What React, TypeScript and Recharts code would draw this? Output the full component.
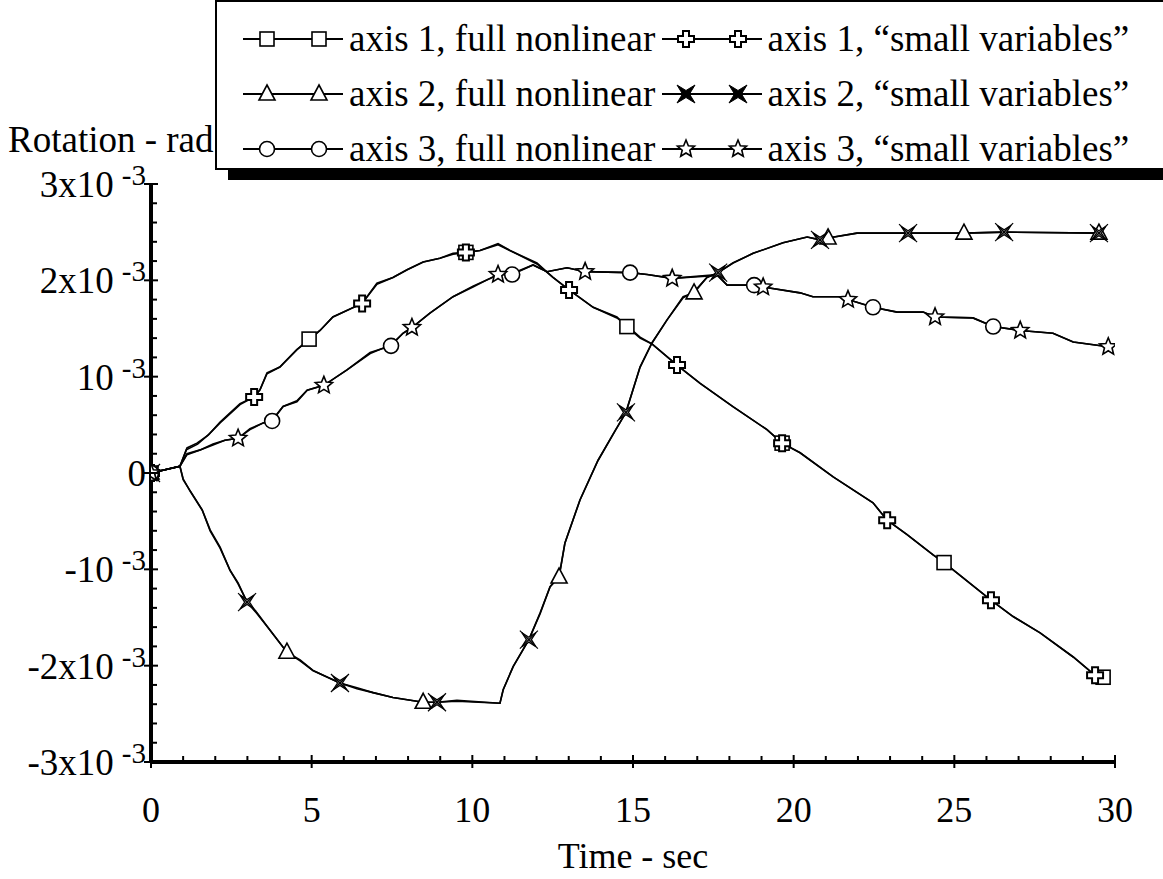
import React from "react";
import { ComposedChart, Line, Scatter, XAxis, YAxis, Legend } from "recharts";

// time in sec, rotation in units of 10^-3 rad
const axis1FullLine = [
  [0, 0], [0.9, 0.07], [1.12, 0.26], [1.43, 0.31], [1.77, 0.39], [2.15, 0.52], [2.77, 0.71],
  [3.21, 0.79], [3.39, 0.86], [3.61, 1.04], [4.01, 1.1], [4.54, 1.28], [4.92, 1.39], [5.26, 1.48],
  [5.66, 1.62], [6.57, 1.76], [7.03, 1.97], [7.53, 2.03], [7.97, 2.11], [8.47, 2.19], [8.99, 2.23],
  [9.4, 2.28], [9.8, 2.29], [10.24, 2.31], [10.8, 2.38], [11.17, 2.31], [12.01, 2.18], [12.51, 2.03],
  [13.01, 1.9], [13.76, 1.72], [14.5, 1.62], [14.81, 1.52], [15.22, 1.4], [15.59, 1.34], [16.37, 1.12],
  [17.09, 0.93], [18.11, 0.69], [19.17, 0.45], [19.64, 0.31], [20.2, 0.21], [21.23, -0.04],
  [22.47, -0.31], [22.91, -0.49], [23.53, -0.64], [24.34, -0.85], [24.68, -0.93], [25.09, -1.04],
  [26.14, -1.32], [26.83, -1.49], [27.67, -1.66], [28.7, -1.91], [29.38, -2.1], [29.63, -2.12],
];
const axis1FullMarks = [
  [0, 0], [4.92, 1.39], [9.8, 2.29], [14.81, 1.52], [19.64, 0.31], [24.68, -0.93], [29.63, -2.12],
];

const axis1SmallLine = [
  [0, 0], [0.9, 0.07], [1.1, 0.24], [1.45, 0.3], [1.8, 0.4], [2.15, 0.53], [2.77, 0.72],
  [3.21, 0.79], [3.4, 0.87], [3.61, 1.03], [4.01, 1.1], [4.54, 1.28], [4.92, 1.38], [5.26, 1.48],
  [5.66, 1.62], [6.57, 1.76], [7.03, 1.96], [7.53, 2.03], [7.97, 2.11], [8.47, 2.19], [8.99, 2.23],
  [9.4, 2.27], [9.8, 2.29], [10.24, 2.31], [10.8, 2.37], [11.17, 2.31], [12.01, 2.17], [12.51, 2.03],
  [13.01, 1.9], [13.76, 1.72], [14.5, 1.61], [14.81, 1.53], [15.22, 1.41], [15.59, 1.34], [16.37, 1.12],
  [17.09, 0.93], [18.11, 0.69], [19.17, 0.45], [19.64, 0.31], [20.2, 0.21], [21.23, -0.04],
  [22.47, -0.31], [22.91, -0.49], [23.53, -0.64], [24.34, -0.85], [24.68, -0.93], [25.09, -1.04],
  [26.14, -1.32], [26.83, -1.49], [27.67, -1.66], [28.7, -1.91], [29.38, -2.1],
];
const axis1SmallMarks = [
  [0, 0], [3.21, 0.79], [6.57, 1.76], [9.8, 2.29], [13.01, 1.9], [16.37, 1.12], [19.64, 0.31],
  [22.91, -0.49], [26.14, -1.32], [29.38, -2.1],
];

const axis2FullLine = [
  [0, 0], [0.9, 0.07], [1.0, -0.07], [1.21, -0.18], [1.59, -0.38], [1.84, -0.59], [2.15, -0.77],
  [2.46, -1.01], [2.71, -1.14], [2.99, -1.34], [3.3, -1.45], [3.7, -1.63], [4.23, -1.86], [4.64, -1.94],
  [5.04, -2.05], [5.88, -2.18], [6.41, -2.23], [6.91, -2.28], [7.53, -2.33], [8.47, -2.38], [8.9, -2.38],
  [9.52, -2.36], [10.86, -2.39], [10.96, -2.25], [11.27, -2.01], [11.76, -1.73], [12.11, -1.45],
  [12.42, -1.18], [12.7, -1.08], [12.88, -0.73], [13.35, -0.28], [13.91, 0.13], [14.41, 0.42],
  [14.78, 0.63], [15.22, 1.1], [15.59, 1.35], [16.06, 1.59], [16.56, 1.83], [16.9, 1.87], [17.3, 2.03],
  [17.65, 2.08], [18.11, 2.18], [18.74, 2.28], [19.67, 2.39], [20.42, 2.45], [20.82, 2.42],
  [21.07, 2.44], [21.97, 2.49], [23.56, 2.49], [25.3, 2.49], [26.55, 2.5], [29.5, 2.49],
];
const axis2FullMarks = [
  [0, 0], [4.23, -1.86], [8.47, -2.38], [12.7, -1.08], [16.9, 1.87], [21.07, 2.44], [25.3, 2.49], [29.5, 2.49],
];

const axis2SmallLine = [
  [0, 0], [0.9, 0.07], [1.0, -0.06], [1.22, -0.19], [1.6, -0.39], [1.84, -0.6], [2.15, -0.78],
  [2.46, -1.01], [2.71, -1.15], [2.99, -1.34], [3.3, -1.46], [3.7, -1.63], [4.23, -1.86], [4.64, -1.95],
  [5.04, -2.05], [5.88, -2.18], [6.41, -2.24], [6.91, -2.28], [7.53, -2.33], [8.47, -2.38], [8.9, -2.38],
  [9.52, -2.37], [10.86, -2.39], [10.96, -2.25], [11.27, -2.01], [11.76, -1.73], [12.11, -1.46],
  [12.42, -1.18], [12.7, -1.07], [12.88, -0.73], [13.35, -0.28], [13.91, 0.13], [14.41, 0.42],
  [14.78, 0.63], [15.22, 1.1], [15.59, 1.35], [16.06, 1.59], [16.56, 1.82], [16.9, 1.88], [17.3, 2.03],
  [17.65, 2.08], [18.11, 2.18], [18.74, 2.28], [19.67, 2.39], [20.42, 2.45], [20.82, 2.42],
  [21.07, 2.44], [21.97, 2.49], [23.56, 2.49], [25.3, 2.49], [26.55, 2.5], [29.5, 2.49],
];
const axis2SmallMarks = [
  [0, 0], [2.99, -1.34], [5.88, -2.18], [8.9, -2.38], [11.76, -1.73], [14.78, 0.63], [17.65, 2.08],
  [20.82, 2.42], [23.56, 2.49], [26.55, 2.5], [29.5, 2.49],
];

const axis3FullLine = [
  [0, 0], [0.9, 0.07], [1.12, 0.19], [1.53, 0.24], [1.93, 0.29], [2.3, 0.34], [2.71, 0.36], [3.08, 0.45],
  [3.49, 0.52], [3.77, 0.54], [4.11, 0.69], [4.54, 0.74], [4.86, 0.86], [5.38, 0.91], [6.1, 1.07],
  [6.82, 1.25], [7.47, 1.32], [7.84, 1.45], [8.12, 1.51], [8.68, 1.66], [9.4, 1.83], [10.02, 1.93],
  [10.55, 2.02], [10.8, 2.06], [11.24, 2.06], [11.89, 2.16], [12.32, 2.09], [12.95, 2.13], [13.51, 2.09],
  [14.91, 2.08], [15.44, 2.06], [16.22, 2.02], [17.62, 2.06], [17.93, 1.95], [18.77, 1.95], [19.05, 1.93],
  [20.2, 1.87], [20.6, 1.83], [21.44, 1.83], [21.69, 1.8], [22.47, 1.72], [23.22, 1.67], [24.03, 1.67],
  [24.4, 1.62], [25.58, 1.61], [26.21, 1.52], [27.05, 1.48], [28.07, 1.45], [28.7, 1.36], [29.79, 1.31],
];
const axis3FullMarks = [
  [0, 0], [3.77, 0.54], [7.47, 1.32], [11.24, 2.06], [14.91, 2.08], [18.77, 1.95], [22.47, 1.72], [26.21, 1.52],
];

const axis3SmallLine = [
  [0, 0], [0.9, 0.07], [1.12, 0.2], [1.53, 0.24], [1.93, 0.3], [2.3, 0.34], [2.71, 0.36], [3.08, 0.46],
  [3.49, 0.52], [3.77, 0.55], [4.11, 0.69], [4.54, 0.75], [4.86, 0.86], [5.38, 0.91], [6.1, 1.07],
  [6.82, 1.24], [7.47, 1.33], [7.84, 1.45], [8.12, 1.51], [8.68, 1.66], [9.4, 1.83], [10.02, 1.94],
  [10.55, 2.02], [10.8, 2.06], [11.24, 2.07], [11.89, 2.16], [12.32, 2.09], [12.95, 2.13], [13.51, 2.09],
  [14.91, 2.08], [15.44, 2.06], [16.22, 2.02], [17.62, 2.05], [17.93, 1.95], [18.77, 1.95], [19.05, 1.93],
  [20.2, 1.87], [20.6, 1.83], [21.44, 1.83], [21.69, 1.8], [22.47, 1.72], [23.22, 1.67], [24.03, 1.67],
  [24.4, 1.62], [25.58, 1.61], [26.21, 1.52], [27.05, 1.48], [28.07, 1.45], [28.7, 1.36], [29.79, 1.31],
];
const axis3SmallMarks = [
  [0, 0], [2.71, 0.36], [5.38, 0.91], [8.12, 1.51], [10.8, 2.06], [13.51, 2.09], [16.22, 2.02],
  [19.05, 1.93], [21.69, 1.8], [24.4, 1.62], [27.05, 1.48], [29.79, 1.31],
];

const xMajorTicks = [0, 5, 10, 15, 20, 25, 30];
const xMinorTicks = [1, 2, 3, 4, 6, 7, 8, 9, 11, 12, 13, 14, 16, 17, 18, 19, 21, 22, 23, 24, 26, 27, 28, 29];
const yMajorTicks = [-3, -2, -1, 0, 1, 2, 3];
const yMinorTicks = [
  -2.8, -2.6, -2.4, -2.2, -1.8, -1.6, -1.4, -1.2, -0.8, -0.6, -0.4, -0.2,
  0.2, 0.4, 0.6, 0.8, 1.2, 1.4, 1.6, 1.8, 2.2, 2.4, 2.6, 2.8,
];
// tick label = base text + superscript exponent
const yTickBase = ["-3x10", "-2x10", "-10", "0", "10", "2x10", "3x10"];
const yTickExp = ["-3", "-3", "-3", "", "-3", "-3", "-3"];

const series = [
  { name: "axis 1, full nonlinear", line: axis1FullLine, marks: axis1FullMarks, kind: "square" },
  { name: "axis 1, \u201csmall variables\u201d", line: axis1SmallLine, marks: axis1SmallMarks, kind: "plus" },
  { name: "axis 2, full nonlinear", line: axis2FullLine, marks: axis2FullMarks, kind: "triangle" },
  { name: "axis 2, \u201csmall variables\u201d", line: axis2SmallLine, marks: axis2SmallMarks, kind: "xstar" },
  { name: "axis 3, full nonlinear", line: axis3FullLine, marks: axis3FullMarks, kind: "circle" },
  { name: "axis 3, \u201csmall variables\u201d", line: axis3SmallLine, marks: axis3SmallMarks, kind: "star" },
];

const FONT = '"Liberation Serif", "DejaVu Serif", serif';
const toPoints = (arr: number[][]) => arr.map(([t, v]) => ({ t, v }));

function starPoints(outer: number, inner: number) {
  const pts: string[] = [];
  for (let i = 0; i < 10; i++) {
    const r = i % 2 === 0 ? outer : inner;
    const a = -Math.PI / 2 + (i * Math.PI) / 5;
    pts.push(`${(r * Math.cos(a)).toFixed(2)},${(r * Math.sin(a)).toFixed(2)}`);
  }
  return pts.join(" ");
}

function Marker({ kind, x, y, legend }: { kind: string; x: number; y: number; legend?: boolean }) {
  const common = { fill: "#fff", stroke: "#000", strokeWidth: 1.6 };
  let el: React.ReactNode = null;
  if (kind === "square") el = <rect x={-7} y={-7} width={14} height={14} {...common} />;
  else if (kind === "circle") el = <circle r={7.5} {...common} />;
  else if (kind === "triangle") el = <polygon points="0,-9 8,6 -8,6" {...common} />;
  else if (kind === "plus")
    el = <polygon points="-3,-8 3,-8 3,-3 8,-3 8,3 3,3 3,8 -3,8 -3,3 -8,3 -8,-3 -3,-3" {...common} strokeWidth={2} />;
  else if (kind === "star") el = <polygon points={starPoints(9, 4)} {...common} />;
  else if (kind === "xstar")
    el = legend ? (
      <polygon points="-9,-9 0,-3.5 9,-9 3.5,0 9,9 0,3.5 -9,9 -3.5,0" fill="#000" stroke="#000" strokeWidth={1} />
    ) : (
      <g>
        <polygon points="-7,-7 0,-2.5 7,-7 2.5,0 7,7 0,2.5 -7,7 -2.5,0" fill="#888" stroke="#000" strokeWidth={1.2} />
        <line x1={-9} y1={-9} x2={9} y2={9} stroke="#000" strokeWidth={1.2} />
        <line x1={9} y1={-9} x2={-9} y2={9} stroke="#000" strokeWidth={1.2} />
      </g>
    );
  return <g transform={`translate(${x},${y})`}>{el}</g>;
}

const isMajor = (list: number[], v: number) => list.some((m) => Math.abs(m - v) < 1e-6);

function XTick(props: any) {
  const { x, y, payload } = props;
  const major = isMajor(xMajorTicks, payload.value);
  return (
    <g>
      <line x1={x} x2={x} y1={major ? y - 7 : y - 6} y2={major ? y + 6 : y} stroke="#000" strokeWidth={2} />
      {major && (
        <text x={x} y={y + 60} textAnchor="middle" fontFamily={FONT} fontSize={36} fill="#000">
          {payload.value}
        </text>
      )}
    </g>
  );
}

function YTick(props: any) {
  const { x, y, payload } = props;
  const idx = yMajorTicks.findIndex((m) => Math.abs(m - payload.value) < 1e-6);
  const major = idx >= 0;
  return (
    <g>
      <line x1={major ? x - 7 : x} x2={major ? x + 7 : x + 6} y1={y} y2={y} stroke="#000" strokeWidth={2} />
      {major && (
        <text x={x - 5} y={y + 13} textAnchor="end" fontFamily={FONT} fontSize={37} fill="#000">
          {yTickBase[idx]}
          {yTickExp[idx] && (
            <tspan dx={8} dy={-12} fontSize={29}>
              {yTickExp[idx]}
            </tspan>
          )}
        </text>
      )}
    </g>
  );
}

function LegendSymbol({ kind }: { kind: string }) {
  return (
    <svg width={104} height={30} style={{ display: "block" }}>
      <line x1={2} x2={102} y1={15} y2={15} stroke="#000" strokeWidth={2} />
      <Marker kind={kind} x={26} y={15} legend />
      <Marker kind={kind} x={78} y={15} legend />
    </svg>
  );
}

function renderLegend() {
  return (
    <div
      style={{
        width: 960,
        height: 170,
        boxSizing: "border-box",
        border: "2px solid #000",
        background: "#fff",
        boxShadow: "13px 10px 0 #000",
        padding: "9px 0 0 24px",
        fontFamily: FONT,
        fontSize: 37,
        color: "#000",
      }}
    >
      {[0, 1, 2].map((row) => (
        <div key={row} style={{ display: "flex", alignItems: "center", height: 55 }}>
          {[0, 1].map((col) => {
            const s = series[row * 2 + col];
            return (
              <div key={col} style={{ display: "flex", alignItems: "center", width: col === 0 ? 424 : 520 }}>
                <LegendSymbol kind={s.kind} />
                <span style={{ marginLeft: 4, whiteSpace: "nowrap", lineHeight: "40px" }}>{s.name}</span>
              </div>
            );
          })}
        </div>
      ))}
    </div>
  );
}

export default function App() {
  return (
    <div style={{ position: "absolute", left: 0, top: 0, width: 1163, height: 879, overflow: "hidden", background: "#fff" }}>
      <ComposedChart width={1163} height={879} margin={{ top: 184, right: 48, bottom: 116, left: 150 }}>
        <XAxis
          dataKey="t"
          type="number"
          domain={[0, 30]}
          ticks={[...xMajorTicks, ...xMinorTicks].sort((a, b) => a - b)}
          interval={0}
          height={1}
          tickSize={0}
          tickMargin={0}
          tickLine={false}
          tick={<XTick />}
          axisLine={{ stroke: "#000", strokeWidth: 4 }}
          allowDataOverflow
          label={{
            content: () => (
              <text x={633} y={868} textAnchor="middle" fontFamily={FONT} fontSize={36} fill="#000">
                Time - sec
              </text>
            ),
          }}
        />
        <YAxis
          type="number"
          domain={[-3, 3]}
          ticks={[...yMajorTicks, ...yMinorTicks].sort((a, b) => a - b)}
          interval={0}
          width={1}
          tickSize={0}
          tickMargin={0}
          tickLine={false}
          tick={<YTick />}
          axisLine={{ stroke: "#000", strokeWidth: 4 }}
          allowDataOverflow
          label={{
            content: () => (
              <text x={8} y={152} fontFamily={FONT} fontSize={37} fill="#000">
                Rotation - rad
              </text>
            ),
          }}
        />
        <Legend
          layout="vertical"
          align="center"
          verticalAlign="middle"
          content={renderLegend}
          wrapperStyle={{ position: "absolute", left: 215, top: 0, width: 960, height: 180 }}
        />
        {series.map((s) => (
          <Line
            key={`l-${s.name}`}
            data={toPoints(s.line)}
            dataKey="v"
            type="linear"
            stroke="#000"
            strokeWidth={1.6}
            dot={false}
            activeDot={false}
            legendType="none"
            isAnimationActive={false}
          />
        ))}
        {series.map((s) => (
          <Scatter
            key={`m-${s.name}`}
            name={s.name}
            data={toPoints(s.marks)}
            dataKey="v"
            shape={(p: any) => <Marker kind={s.kind} x={p.cx} y={p.cy} />}
            isAnimationActive={false}
          />
        ))}
      </ComposedChart>
    </div>
  );
}
